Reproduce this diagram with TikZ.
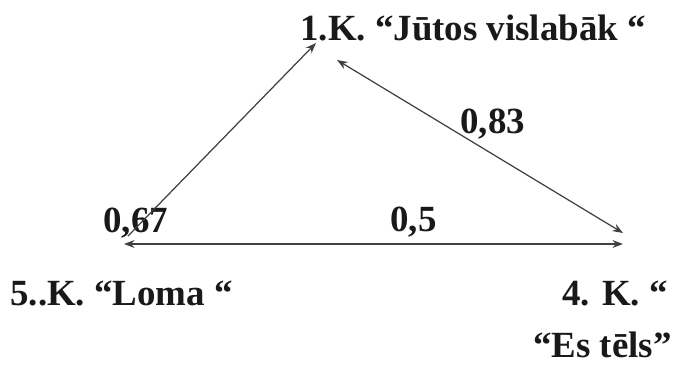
\documentclass[tikz,border=0pt]{standalone}
\usepackage{fontspec}
\setmainfont{Liberation Serif}
\usetikzlibrary{arrows.meta}
\tikzset{
  lbl/.style={font=\bfseries\fontsize{21}{25}\selectfont, inner sep=0pt, text=black!90},
  link/.style={draw=black!75, line width=0.7pt},
  tip/.style={-{Stealth[length=6pt,width=4.5pt]}},
  tips/.style={{Stealth[length=6pt,width=4.5pt]}-{Stealth[length=6pt,width=4.5pt]}},
}
\begin{document}
\begin{tikzpicture}[x=0.02cm,y=-0.02cm]
    \useasboundingbox (0,0) rectangle (693,380);
    % clusters
    \node[lbl,anchor=base west] (k1) at (300,40) {1.K. “Jūtos vislabāk “};
    \node[lbl,anchor=base west] (k5) at (10,305) {5..K. “Loma “};
    \node[lbl,anchor=base east] (k4) at (668,305) {4. K. “};
    \node[lbl,anchor=base east] (k4b) at (672,357) {“Es tēls”};
    % values
    \node[lbl,anchor=base west] (v67) at (103,232) {0,67};
    \node[lbl,anchor=base west] (v83) at (460,133) {0,83};
    \node[lbl,anchor=base west] (v5) at (390,231) {0,5};
    % arrow ends
    \coordinate (a1) at (128,236);
    \coordinate (a2) at (316,43);
    \coordinate (b1) at (337,60);
    \coordinate (b2) at (623,233);
    \coordinate (c1) at (124,244);
    \coordinate (c2) at (623,244);
    \draw[link,tip] (a1) -- (a2);
    \draw[link,tips] (b1) -- (b2);
    \draw[link,tips] (c1) -- (c2);
\end{tikzpicture}
\end{document}
